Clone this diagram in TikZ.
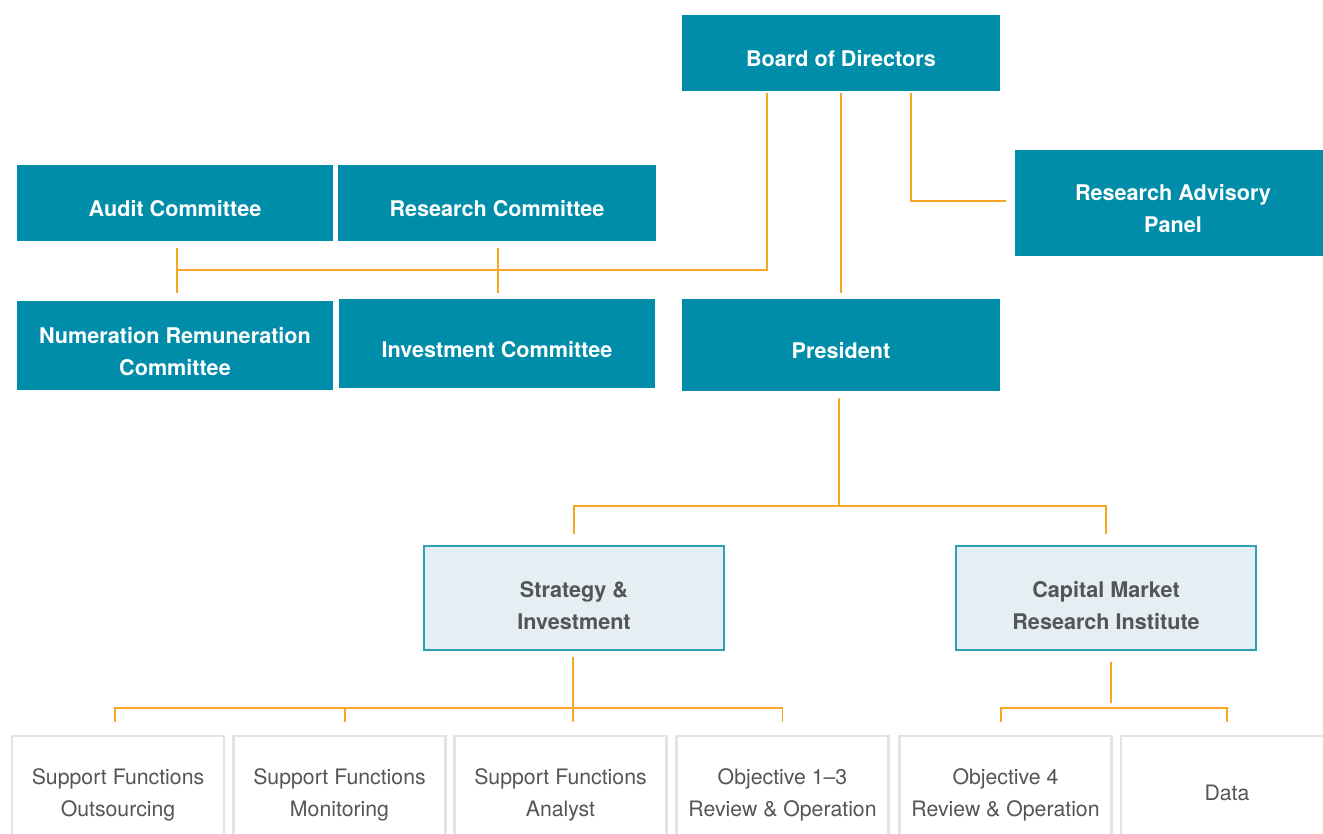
\documentclass[tikz,border=0pt]{standalone}
\usepackage{fontspec}
\setmainfont{TeX Gyre Heros}
\usetikzlibrary{positioning}
\definecolor{boardteal}{HTML}{008DA9}
\definecolor{linkorange}{HTML}{F6A623}
\definecolor{unitfill}{HTML}{E5EEF2}
\definecolor{unitedge}{HTML}{2E9FB5}
\definecolor{deskedge}{HTML}{E1E3E6}
\definecolor{desktext}{HTML}{555555}

\begin{document}
\begin{tikzpicture}[
  x=0.02cm, y=-0.02cm,
  organ/.style={fill=boardteal, text=white, inner sep=0pt, align=center,
    text height=15.7pt, font=\fontsize{12.3}{18.2}\selectfont\bfseries},
  twoline/.style={text height=33.9pt},
  unit/.style={draw=unitedge, line width=0.9pt, fill=unitfill,
    text=desktext, minimum width=6cm, minimum height=2.08cm,
    inner sep=0pt, align=center, text height=36.2pt,
    font=\fontsize{12.3}{18.2}\selectfont\bfseries},
  desk/.style={draw=deskedge, line width=1.6pt, text=desktext,
    minimum width=4.24cm, minimum height=2.28cm, inner sep=0pt,
    align=center, text height=29.2pt, font=\fontsize{12.1}{18.2}\selectfont},
  link/.style={draw=linkorange, line width=1.1pt}
]
  \useasboundingbox (0,0) rectangle (1323,833);

  % governing bodies
  \node[organ, minimum width=6.36cm, minimum height=1.52cm] (board) at (841,53)
    {Board of Directors};
  \node[organ, twoline, minimum width=6.32cm, minimum height=2.12cm] (rap) at (1173,203)
    {Research Advisory\\Panel};
  \node[organ, minimum width=6.34cm, minimum height=1.52cm] (audit) at (175,203)
    {Audit Committee};
  \node[organ, minimum width=6.36cm, minimum height=1.52cm] (rcom) at (497,203)
    {Research Committee};
  \node[organ, twoline, minimum width=6.32cm, minimum height=1.78cm] (numer) at (175,345.5)
    {Numeration Remuneration\\Committee};
  \node[organ, minimum width=6.32cm, minimum height=1.78cm] (invest) at (497,343.5)
    {Investment Committee};
  \node[organ, minimum width=6.36cm, minimum height=1.84cm] (pres) at (841,345)
    {President};

  % divisions
  \node[unit] (strat) at (574,598) {Strategy \&\\Investment};
  \node[unit] (cmri) at (1106,598) {Capital Market\\Research Institute};

  % desks
  \node[desk] (outs) at (118,793) {Support Functions\\Outsourcing};
  \node[desk] (moni) at (339.5,793) {Support Functions\\Monitoring};
  \node[desk] (anal) at (560.5,793) {Support Functions\\Analyst};
  \node[desk] (obj13) at (782.5,793) {Objective 1--3\\Review \& Operation};
  \node[desk] (obj4) at (1005.5,793) {Objective 4\\Review \& Operation};
  \node[desk, text height=8.7pt] (data) at (1227,793) {Data};

  % junctions
  \coordinate (cj) at (177,270);
  \coordinate (pj) at (839,506);
  \coordinate (sj) at (573,708);
  \coordinate (mj) at (1111,708);

  % board links
  \draw[link] ([xshift=-1.48cm, yshift=-0.04cm]board.south) |- (cj);
  \draw[link] ([xshift=0.04cm, yshift=-0.14cm]audit.south)
    -- ([xshift=0.04cm, yshift=0.16cm]numer.north);
  \draw[link] ([xshift=0.02cm, yshift=-0.14cm]rcom.south)
    -- ([xshift=0.02cm, yshift=0.12cm]invest.north);
  \draw[link] ([yshift=-0.04cm]board.south) -- ([yshift=0.12cm]pres.north);
  \draw[link] ([xshift=1.4cm, yshift=-0.04cm]board.south)
    |- ([xshift=-0.18cm, yshift=0.04cm]rap.west);

  % president links
  \draw[link] ([xshift=-0.04cm, yshift=-0.14cm]pres.south) -- (pj);
  \draw[link] ([yshift=0.22cm]strat.north) |- (pj) -| ([yshift=0.22cm]cmri.north);

  % strategy links
  \draw[link] ([xshift=-0.02cm, yshift=-0.12cm]strat.south) -- ([xshift=0.25cm, yshift=0.26cm]anal.north);
  \draw[link] ([xshift=-0.06cm, yshift=0.26cm]outs.north) |- (sj)
    -| ([yshift=0.26cm]obj13.north);
  \draw[link] ([xshift=0.11cm, yshift=0.26cm]moni.north) -- ([xshift=0.11cm]moni.north |- sj);

  % institute links
  \draw[link] ([xshift=0.1cm, yshift=-0.22cm]cmri.south) -- ([yshift=0.1cm]mj);
  \draw[link] ([xshift=-0.09cm, yshift=0.26cm]obj4.north) |- (mj)
    -| ([yshift=0.26cm]data.north);
\end{tikzpicture}
\end{document}
